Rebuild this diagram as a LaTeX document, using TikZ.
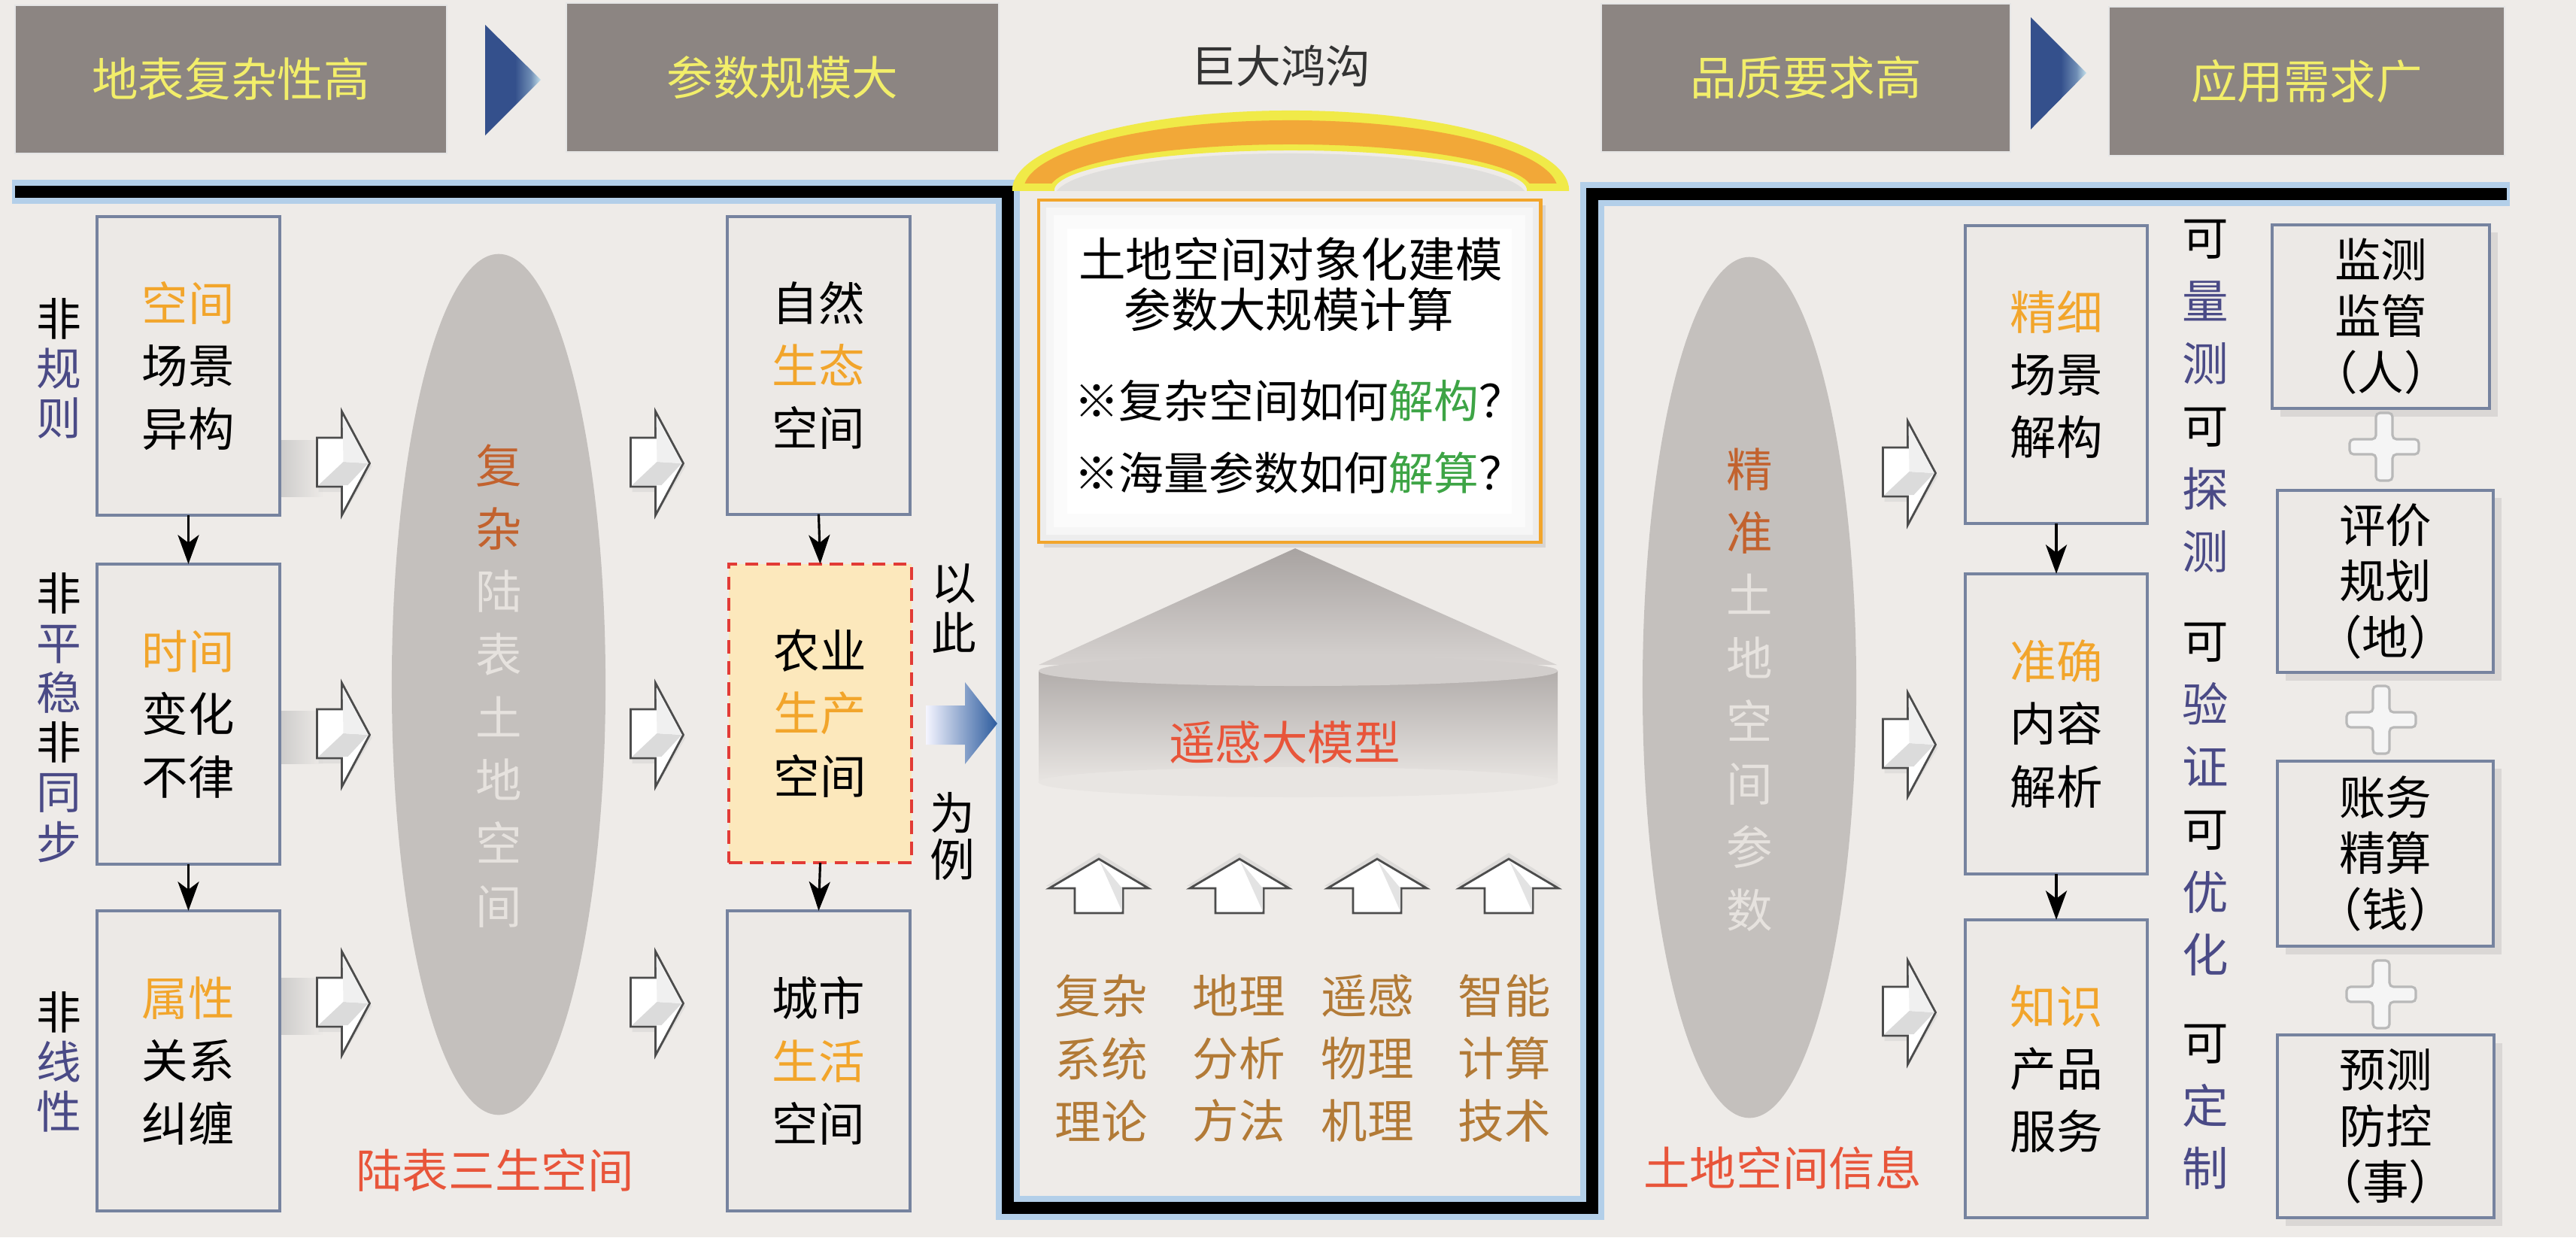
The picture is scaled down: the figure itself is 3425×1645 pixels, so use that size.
\documentclass[tikz,border=0pt]{standalone}
\usepackage{fontspec}
\setmainfont{Noto Sans CJK SC}
\usetikzlibrary{arrows.meta,shadows}
\definecolor{bg}{HTML}{EEEBE8}
\definecolor{topbox}{HTML}{8C8582}
\definecolor{topyel}{HTML}{F2EE6A}
\definecolor{boxfill}{HTML}{ECE9E6}
\definecolor{boxline}{HTML}{76839F}
\definecolor{orng}{HTML}{F2A52B}
\definecolor{brorng}{HTML}{C2622E}
\definecolor{redor}{HTML}{E8553A}
\definecolor{cbrown}{HTML}{B27A36}
\definecolor{navy}{HTML}{4A4A86}
\definecolor{grn}{HTML}{3DA445}
\definecolor{ellfill}{HTML}{C4C0BD}
\definecolor{elltext}{HTML}{E6E2DE}
\definecolor{glow}{HTML}{A9CBEA}
\definecolor{dkblue}{HTML}{34508C}
\definecolor{midblue}{HTML}{6E8CB4}
\definecolor{ltblue}{HTML}{C6E2EC}
\definecolor{arrblue}{HTML}{2D5C9E}
\definecolor{dashred}{HTML}{E23B36}
\definecolor{dashfill}{HTML}{FCE8BC}
\definecolor{archyel}{HTML}{F0EA48}
\definecolor{archor}{HTML}{F2A838}
\definecolor{conetop}{HTML}{A8A3A1}
\definecolor{conebot}{HTML}{D6D2D0}
\definecolor{cyltop}{HTML}{B2ADAB}
\definecolor{cylbot}{HTML}{E8E5E2}
\definecolor{cylel}{HTML}{D2CECC}
\pgfdeclarehorizontalshading{triblue}{100bp}{color(0bp)=(dkblue); color(25bp)=(dkblue); color(52bp)=(dkblue); color(66bp)=(midblue); color(75bp)=(ltblue); color(100bp)=(ltblue)}
\begin{document}
\begin{tikzpicture}[x=0.01cm,y=-0.01cm,
  topbx/.style={draw=white!80!gray, line width=0.6pt, fill=topbox, text=topyel, inner sep=0pt, outer sep=0pt, font=\fontsize{17.5}{21}\selectfont},
  bx/.style={draw=boxline, line width=1.1pt, fill=boxfill, inner sep=0pt, outer sep=0pt, align=center, font=\fontsize{17.5}{23.7}\selectfont, minimum width=2.43cm},
  dbx/.style={bx, draw=dashred, dash pattern=on 5pt off 3pt, fill=dashfill},
  fbx/.style={bx, font=\fontsize{17.5}{21.3}\selectfont, drop shadow={shadow xshift=3pt, shadow yshift=-3pt, opacity=0.18}},
  plaintxt/.style={inner sep=0pt, outer sep=0pt, align=center, font=\fontsize{17.5}{23.7}\selectfont},
  sidelbl/.style={plaintxt, font=\fontsize{17}{18.8}\selectfont},
  elltxt/.style={plaintxt, text=elltext, font=\fontsize{17.5}{23.8}\selectfont},
  darr/.style={-{Stealth[length=11pt,width=8pt,inset=3pt]}, line width=0.9pt, black},
  rarr/.pic={
    \fill[gray!45, opacity=0.35] (-33,-30) -- (-2,-30) -- (-2,-62) -- (38,4) -- (-2,72) -- (-2,38) -- (-33,38) -- cycle;
    \filldraw[fill=white, draw=gray!60!black, line width=0.8pt] (-35,-34) -- (-2,-34) -- (-2,-69) -- (35,0) -- (-2,69) -- (-2,31) -- (-35,31) -- cycle;
    \fill[gray!28] (-33,29) -- (0,-2) -- (33,0) -- (6,29) -- cycle;
    \fill[gray!12] (0,-2) -- (33,0) -- (-1,-62) -- cycle;
  },
  uarr/.pic={
    \fill[gray!50, opacity=0.35] (0,-44) -- (70,0) -- (34,0) -- (34,30) -- (-34,30) -- (-34,0) -- (-70,0) -- cycle;
    \filldraw[fill=white, draw=gray!60!black, line width=0.8pt] (0,-36) -- (66,3) -- (32,3) -- (32,36) -- (-32,36) -- (-32,3) -- (-66,3) -- cycle;
    \fill[gray!22] (1,-33) -- (31,3) -- (31,34) -- cycle;
  },
  plus/.pic={
    \filldraw[fill=white!92!gray, draw=gray!55, line width=0.9pt, rounded corners=1.5pt] (-11,-45) -- (11,-45) -- (11,-10) -- (46,-10) -- (46,10) -- (11,10) -- (11,45) -- (-11,45) -- (-11,10) -- (-46,10) -- (-46,-10) -- (-11,-10) -- cycle;
  }
]
\fill[bg] (0,0) rectangle (3425,1645);
\useasboundingbox (0,0) rectangle (3425,1645);

% ---- top row ----
\node[topbx, minimum width=5.74cm, minimum height=1.97cm] (t1) at (307,105.5) {地表复杂性高};
\node[topbx, minimum width=5.75cm, minimum height=1.98cm] (t2) at (1040.5,103) {参数规模大};
\node[topbx, minimum width=5.44cm, minimum height=1.97cm] (t3) at (2401,103.5) {品质要求高};
\node[topbx, minimum width=5.26cm, minimum height=1.98cm] (t4) at (3067,108) {应用需求广};
\shade[shading=triblue] (645,33) -- (719,106) -- (645,180) -- cycle;
\shade[shading=triblue] (2700,23) -- (2774,97) -- (2700,172) -- cycle;
\node[plaintxt, text=black!80, font=\fontsize{17}{21}\selectfont] (gap) at (1703,88) {巨大鸿沟};

% ---- frame ----
\draw[glow, line width=9pt, opacity=0.85, line join=miter] (16,255) -- (1340,255) -- (1340,1606) -- (2117,1606) -- (2117,258) -- (3337,258);
\draw[black, line width=4.5pt, line join=miter] (20,255) -- (1340,255) -- (1340,1606) -- (2117,1606) -- (2117,258) -- (3333,258);

% ---- arch ----
\begin{scope}
\clip (1300,100) rectangle (2140,253);
\fill[gray!35, opacity=0.5] (1716,262) ellipse [x radius=3.14cm, y radius=0.58cm];
\fill[archyel, even odd rule] (1716,253) ellipse [x radius=3.70cm, y radius=1.06cm] (1716,253) ellipse [x radius=3.14cm, y radius=0.53cm];
\clip (1300,100) rectangle (2140,243);
\fill[archor, even odd rule] (1716,253) ellipse [x radius=3.55cm, y radius=0.93cm] (1716,253) ellipse [x radius=3.21cm, y radius=0.61cm];
\end{scope}

% ---- centre column ----
\node[draw=orng, line width=1.3pt, fill=white, inner sep=0pt, outer sep=0pt, minimum width=6.67cm, minimum height=4.55cm, drop shadow={shadow xshift=2pt, shadow yshift=-2pt, opacity=0.2}] (cbox) at (1714.5,493.5) {};
\draw[gray!14, line width=4pt] (1390,275) rectangle (2039,712);
\draw[gray!7, line width=5pt] (1400,285) rectangle (2029,702);
\draw[gray!3, line width=5pt] (1410,295) rectangle (2019,692);
\node[plaintxt, font=\fontsize{17.8}{21}\selectfont] (c1) at (1716,345) {土地空间对象化建模};
\node[plaintxt, font=\fontsize{17.8}{21}\selectfont] (c2) at (1714,412) {参数大规模计算};
\node[plaintxt, font=\fontsize{17}{21}\selectfont] (c3) at (1727,533) {※复杂空间如何\textcolor{grn}{解构}？};
\node[plaintxt, font=\fontsize{17}{21}\selectfont] (c4) at (1727,629) {※海量参数如何\textcolor{grn}{解算}？};

\shade[top color=conetop, bottom color=conebot] (1722,729) -- (2070,884) -- (1381,884) -- cycle;
\shade[top color=cyltop, bottom color=cylbot] (1381,892) rectangle (2071,1040);
\fill[cylbot] (1726,1040) ellipse [x radius=3.45cm, y radius=0.2cm];
\fill[cylel] (1726,892) ellipse [x radius=3.45cm, y radius=0.2cm];
\node[plaintxt, text=redor] (rsm) at (1708,987) {遥感大模型};

\pic at (1461,1178) {uarr};
\pic at (1648,1178) {uarr};
\pic at (1831,1178) {uarr};
\pic at (2006,1178) {uarr};
\node[plaintxt, text=cbrown] (b1) at (1464,1407) {复杂\\系统\\理论};
\node[plaintxt, text=cbrown] (b2) at (1647,1407) {地理\\分析\\方法};
\node[plaintxt, text=cbrown] (b3) at (1818,1407) {遥感\\物理\\机理};
\node[plaintxt, text=cbrown] (b4) at (2000,1407) {智能\\计算\\技术};

% ---- left part ----
\node[sidelbl] (s1) at (78,490) {非\\\textcolor{navy}{规}\\\textcolor{navy}{则}};
\node[sidelbl] (s2) at (78,954) {非\\\textcolor{navy}{平}\\\textcolor{navy}{稳}\\非\\\textcolor{navy}{同}\\\textcolor{navy}{步}};
\node[sidelbl] (s3) at (78,1412) {非\\\textcolor{navy}{线}\\\textcolor{navy}{性}};

\node[bx, minimum height=3.97cm] (L1) at (250.5,486.5) {\textcolor{orng}{空间}\\场景\\异构};
\node[bx, minimum height=3.99cm] (L2) at (250.5,949.5) {\textcolor{orng}{时间}\\变化\\不律};
\node[bx, minimum height=3.99cm] (L3) at (250.5,1410.5) {\textcolor{orng}{属性}\\关系\\纠缠};
\draw[darr] (L1.south) -- (L2.north);
\draw[darr] (L2.south) -- (L3.north);

\shade[left color=gray!55, right color=bg, opacity=0.6] (374,585) rectangle (430,660);
\shade[left color=gray!55, right color=bg, opacity=0.6] (374,945) rectangle (430,1015);
\shade[left color=gray!55, right color=bg, opacity=0.6] (374,1300) rectangle (430,1375);

\fill[ellfill] (663,910) ellipse [x radius=1.42cm, y radius=5.72cm];
\node[elltxt] (e1t) at (663,912) {\textcolor{brorng}{复}\\\textcolor{brorng}{杂}\\陆\\表\\土\\地\\空\\间};
\node[plaintxt, text=redor] (lab1) at (658,1556) {陆表三生空间};

\pic at (456.5,616) {rarr};
\pic at (456.5,977) {rarr};
\pic at (456.5,1334) {rarr};
\pic at (873.5,616) {rarr};
\pic at (873.5,977) {rarr};
\pic at (873.5,1334) {rarr};

\node[bx, minimum height=3.95cm] (M1) at (1088.5,486) {自然\\\textcolor{orng}{生态}\\空间};
\node[dbx, minimum height=3.97cm] (M2) at (1090.5,948.5) {农业\\\textcolor{orng}{生产}\\空间};
\node[bx, minimum height=3.99cm] (M3) at (1088.5,1410.5) {城市\\\textcolor{orng}{生活}\\空间};
\draw[darr] (M1.south) -- (M2.north);
\draw[darr] (M2.south) -- (M3.north);

\node[plaintxt, font=\fontsize{17}{19.3}\selectfont] (yc) at (1268,809) {以\\此};
\node[plaintxt, font=\fontsize{17}{17.6}\selectfont] (wl) at (1266,1112) {为\\例};
\shade[left color=blue!4!white, right color=arrblue] (1231,938) -- (1283,938) -- (1283,907) -- (1326,962) -- (1283,1016) -- (1283,990) -- (1231,990) -- cycle;

% ---- right part ----
\fill[ellfill] (2326,914) ellipse [x radius=1.42cm, y radius=5.72cm];
\node[elltxt] (e2t) at (2326,917) {\textcolor{brorng}{精}\\\textcolor{brorng}{准}\\土\\地\\空\\间\\参\\数};
\node[plaintxt, text=redor] (lab2) at (2370,1553) {土地空间信息};

\pic at (2538.5,629) {rarr};
\pic at (2538.5,990) {rarr};
\pic at (2538.5,1346) {rarr};

\node[bx, minimum width=2.42cm, minimum height=3.96cm] (R1) at (2734,498) {\textcolor{orng}{精细}\\场景\\解构};
\node[bx, minimum width=2.42cm, minimum height=3.99cm] (R2) at (2734,962.5) {\textcolor{orng}{准确}\\内容\\解析};
\node[bx, minimum width=2.42cm, minimum height=3.96cm] (R3) at (2734,1421) {\textcolor{orng}{知识}\\产品\\服务};
\draw[darr] (R1.south) -- (R2.north);
\draw[darr] (R2.south) -- (R3.north);

\node[plaintxt] (v1) at (2932,527) {可\\\textcolor{navy}{量}\\\textcolor{navy}{测}\\可\\\textcolor{navy}{探}\\\textcolor{navy}{测}};
\node[plaintxt] (v2) at (2932,1063) {可\\\textcolor{navy}{验}\\\textcolor{navy}{证}\\可\\\textcolor{navy}{优}\\\textcolor{navy}{化}};
\node[plaintxt] (v3) at (2932,1472) {可\\\textcolor{navy}{定}\\\textcolor{navy}{制}};

\node[fbx, minimum width=2.89cm, minimum height=2.44cm] (F1) at (3165.5,421) {监测\\监管\\（人）};
\node[fbx, minimum width=2.87cm, minimum height=2.42cm] (F2) at (3171.5,773) {评价\\规划\\（地）};
\node[fbx, minimum width=2.87cm, minimum height=2.46cm] (F3) at (3171.5,1135) {账务\\精算\\（钱）};
\node[fbx, minimum width=2.88cm, minimum height=2.43cm] (F4) at (3172,1497.5) {预测\\防控\\（事）};
\pic at (3170,594) {plus};
\pic at (3166,957) {plus};
\pic at (3166,1322) {plus};
\end{tikzpicture}
\end{document}
